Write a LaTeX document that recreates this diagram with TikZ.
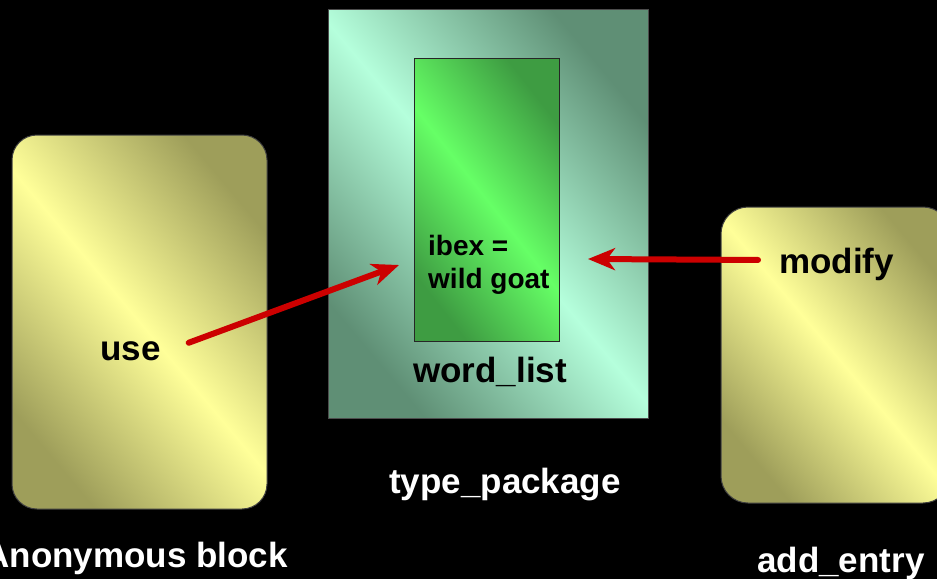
\documentclass[tikz,border=0pt]{standalone}
\usepackage{fontspec}
\setmainfont{Liberation Sans}
\usepackage{tikz}
\definecolor{ylight}{RGB}{255, 255, 153}
\definecolor{ydark}{RGB}{158, 158, 90}
\definecolor{mlight}{RGB}{181, 255, 220}
\definecolor{mdark}{RGB}{95, 143, 117}
\definecolor{glight}{RGB}{102, 255, 102}
\definecolor{gdark}{RGB}{62, 156, 66}
\definecolor{arrowred}{RGB}{204, 0, 0}
\usetikzlibrary{positioning}
\usetikzlibrary{arrows.meta}

\begin{document}
\begin{tikzpicture}[
  every node/.style={inner sep=0pt},
  lbl/.style={font=\fontsize{35pt}{40pt}\selectfont\bfseries},
  lblsmall/.style={font=\fontsize{28pt}{33pt}\selectfont\bfseries},
  flow/.style={draw=arrowred, line width=6pt, line cap=round, -{Stealth[length=27pt, width=22pt, inset=8pt]}}]
\fill [black] (0pt, 0pt) rectangle (937pt, -579pt);
\useasboundingbox (0pt, 0pt) rectangle (937pt, -579pt);
\node (anon) [rectangle, rounded corners=25pt, minimum width=255pt, minimum height=374pt, draw=black!75, line width=1pt, top color=ydark, bottom color=ydark, middle color=ylight, shading angle=-50] at (139.5pt, -322pt) {};
\node (pkg) [rectangle, minimum width=320pt, minimum height=409pt, draw=black!70, line width=1pt, top color=mdark, bottom color=mdark, middle color=mlight, shading angle=-50] at (488pt, -213.5pt) {};
\node (wordlist) [rectangle, minimum width=145pt, minimum height=283pt, draw=black!85, line width=1pt, top color=gdark, bottom color=gdark, middle color=glight, shading angle=-52] at (486.5pt, -199.5pt) {};
\node (addentry) [rectangle, rounded corners=27pt, minimum width=229pt, minimum height=296pt, draw=black!75, line width=1pt, top color=ydark, bottom color=ydark, middle color=ylight, shading angle=-50] at (835.5pt, -355pt) {};
\node (use) [lbl, anchor=base west] at (100pt, -360pt) {use};
\node (modify) [lbl, anchor=base west] at (779pt, -273pt) {modify};
\node (entry) [lblsmall, align=left, anchor=north west] at (428pt, -235pt) {ibex =\\wild goat};
\node (wordlabel) [lbl, anchor=base west] at (413pt, -382pt) {word\_list};
\node (pkglabel) [lbl, white, anchor=base] at (505pt, -493pt) {type\_package};
\node (anonlabel) [lbl, white, anchor=base east] at (288pt, -567pt) {Anonymous block};
\node (addlabel) [lbl, white, anchor=base west] at (757pt, -572pt) {add\_entry};
\coordinate (usetip) at (399pt, -265pt);
\coordinate (modtip) at (588pt, -259pt);
\draw [flow] ([shift={(28pt, 8pt)}]use.east) to (usetip);
\draw [flow] ([shift={(-21pt, 4pt)}]modify.west) to (modtip);
\end{tikzpicture}
\end{document}
